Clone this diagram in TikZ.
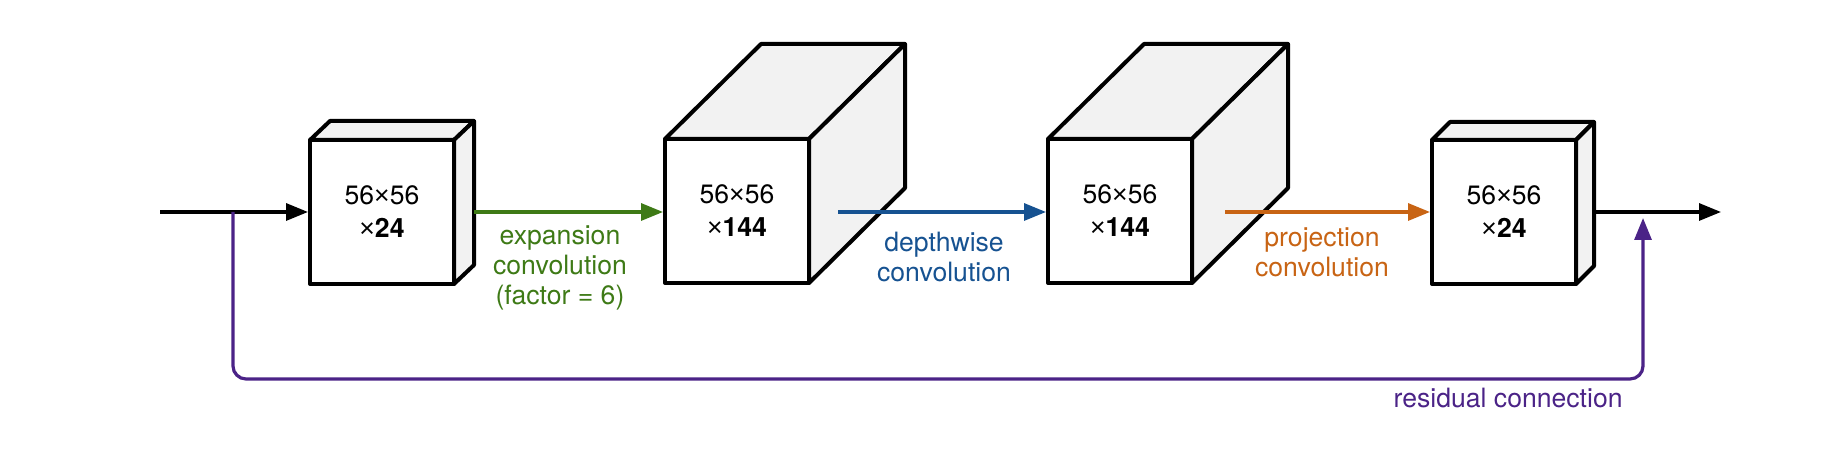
\documentclass[tikz,border=0pt]{standalone}
\usepackage{fontspec}
\setmainfont{TeX Gyre Heros}
\newfontfamily\xfont{Liberation Sans}
\newcommand\tms{{\xfont ×}}
\usetikzlibrary{arrows.meta}
\definecolor{cgreen}{RGB}{62,122,22}
\definecolor{cblue}{RGB}{22,82,145}
\definecolor{corange}{RGB}{200,100,20}
\definecolor{cpurple}{RGB}{75,35,135}
\definecolor{cface}{RGB}{242,242,242}
\newcommand\cubefaces[3]{%
  \draw[face] (#1.north west) -- ([shift={(#2,#3)}]#1.north west) -- ([shift={(#2,#3)}]#1.north east) -- (#1.north east) -- cycle;
  \draw[face] (#1.north east) -- ([shift={(#2,#3)}]#1.north east) -- ([shift={(#2,#3)}]#1.south east) -- (#1.south east) -- cycle;
}
\begin{document}
\begin{tikzpicture}[x=0.5pt,y=-0.5pt,
  box/.style={draw, line width=2pt, line join=round, fill=white, minimum width=72pt, minimum height=72pt, outer sep=0pt, inner sep=0pt, align=center, font=\fontsize{13.3}{16.5}\selectfont},
  face/.style={draw, line width=2pt, line join=round, fill=cface},
  arr/.style={line width=1.6pt, -{Triangle[length=11pt,width=8.5pt]}, shorten >=1pt},
  lbl/.style={inner sep=0pt, align=center, font=\fontsize{13.3}{15}\selectfont},
]
\useasboundingbox (0,0) rectangle (1824,474);
% boxes
\node[box] (b1) at (382,212) {56\tms56\\\tms\textbf{24}};
\node[box] (b2) at (737,211) {56\tms56\\\tms\textbf{144}};
\node[box] (b3) at (1120,211) {56\tms56\\\tms\textbf{144}};
\node[box] (b4) at (1504,212) {56\tms56\\\tms\textbf{24}};
\cubefaces{b1}{20}{-19}
\cubefaces{b2}{96}{-95}
\cubefaces{b3}{96}{-95}
\cubefaces{b4}{18}{-18}
% coordinates
\coordinate (in) at (160,212);
\coordinate (out) at (1723,212);
\coordinate (split) at (233,212);
\coordinate (resend) at (1643,216);
\coordinate (botl) at (233,379);
\coordinate (botr) at (1643,379);
% arrows
\draw[arr] (in) -- (b1.west |- in);
\draw[arr, cgreen] ([shift={(20,0)}]b1.east |- in) -- (b2.west |- in);
\draw[arr, cblue] ([shift={(29,0)}]b2.east |- in) -- (b3.west |- in);
\draw[arr, corange] ([shift={(33,0)}]b3.east |- in) -- (b4.west |- in);
\draw[arr] ([shift={(18,0)}]b4.east |- in) -- (out);
\draw[arr, cpurple, rounded corners=6.5pt] (split) -- (botl) -- (botr) -- (resend);
% labels
\node[lbl, text=cgreen] (lg) at (560,268) {expansion\\convolution\\(factor = 6)};
\node[lbl, text=cblue] (lb) at (944,257) {depthwise\\convolution};
\node[lbl, text=corange] (lo) at (1322,252) {projection\\convolution};
\node[lbl, text=cpurple, anchor=east] (lr) at (1623,398) {residual connection};
\end{tikzpicture}
\end{document}
